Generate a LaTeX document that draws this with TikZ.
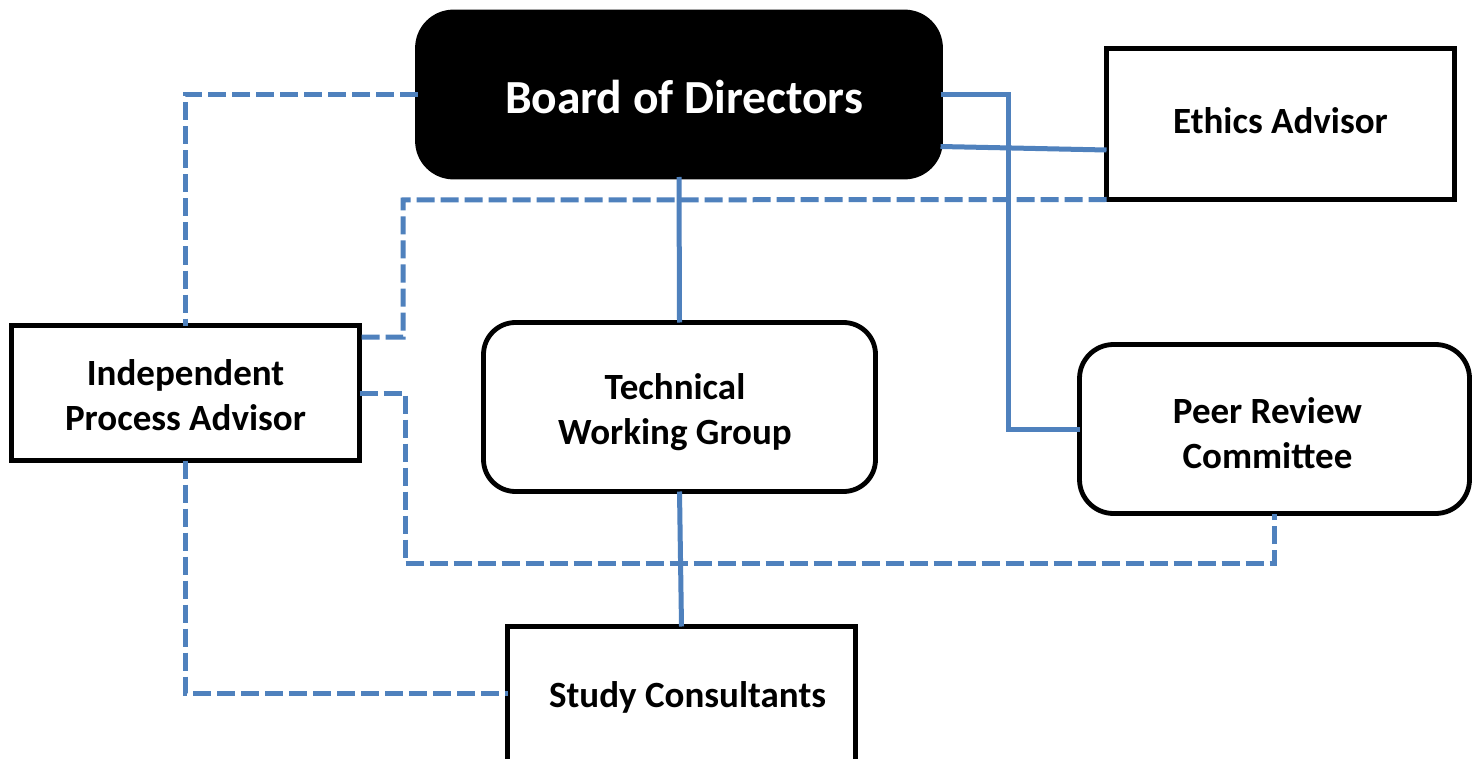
\documentclass[tikz,border=0pt]{standalone}
\usepackage{fontspec}
\setmainfont{Carlito}
\usetikzlibrary{calc}
\definecolor{conblue}{HTML}{4F81BD}
\tikzset{
  box/.style={draw=black, line width=4.8pt, fill=white, outer sep=0pt, inner sep=0pt,
    align=center, font=\bfseries\fontsize{37}{45}\selectfont, text=black},
  sqbox/.style={box, rectangle},
  rbox/.style={box, rectangle, rounded corners=32pt},
  link/.style={draw=conblue, line width=5pt},
  dlink/.style={link, dash pattern=on 18pt off 6pt},
}
\begin{document}
\begin{tikzpicture}[x=1pt, y=-1pt]
\useasboundingbox (0,0) rectangle (1479,759);
\clip (0,0) rectangle (1479,759);
\fill[white] (0,0) rectangle (1479,759);

\node[rbox, fill=black, draw=black, text=white, rounded corners=36pt,
      minimum width=523pt, minimum height=165pt,
      font=\bfseries\fontsize{47.5}{52}\selectfont] (board) at (679,94.5) {\hspace*{10pt}\rule{0pt}{38pt}Board of Directors};
\node[sqbox, minimum width=348pt, minimum height=151pt] (ethics) at (1280.5,124) {\raisebox{6pt}{Ethics Advisor}};
\node[sqbox, minimum width=348pt, minimum height=135pt] (ipa) at (185.5,393) {\rule{0pt}{30pt}Independent\\Process Advisor};
\node[rbox, minimum width=392pt, minimum height=169pt] (twg) at (679.5,407) {\rule{0pt}{37pt}Technical\hspace*{9pt}\\Working Group\hspace*{9pt}};
\node[rbox, rounded corners=34pt, minimum width=390pt, minimum height=169pt] (peer) at (1274.5,429) {\rule{0pt}{35pt}Peer Review\hspace*{14pt}\\Committee\hspace*{14pt}};
\node[sqbox, minimum width=348pt, minimum height=141pt] (study) at (681.5,697) {\hspace*{12pt}Study Consultants};

\coordinate (c1) at (1008,94.5);
\coordinate (c2) at (405,563);
\coordinate (c3) at (403,200);

\path[link] (board.south) -- (twg.north);
\path[link] (twg.south) -- (study.north);
\path[link] (board.east) -- (c1) |- (peer.west);
\path[link] ([yshift=-52pt]board.east) -- ([yshift=-26pt]ethics.west);
\path[dlink] (board.west) -| (ipa.north);
\path[dlink] (ethics.south west) -- (c3) |- ([yshift=56pt]ipa.east);
\path[dlink] (ipa.east) -| (c2) -| (peer.south);
\path[dlink] (ipa.south) |- ([yshift=4pt]study.west);
\end{tikzpicture}
\end{document}
